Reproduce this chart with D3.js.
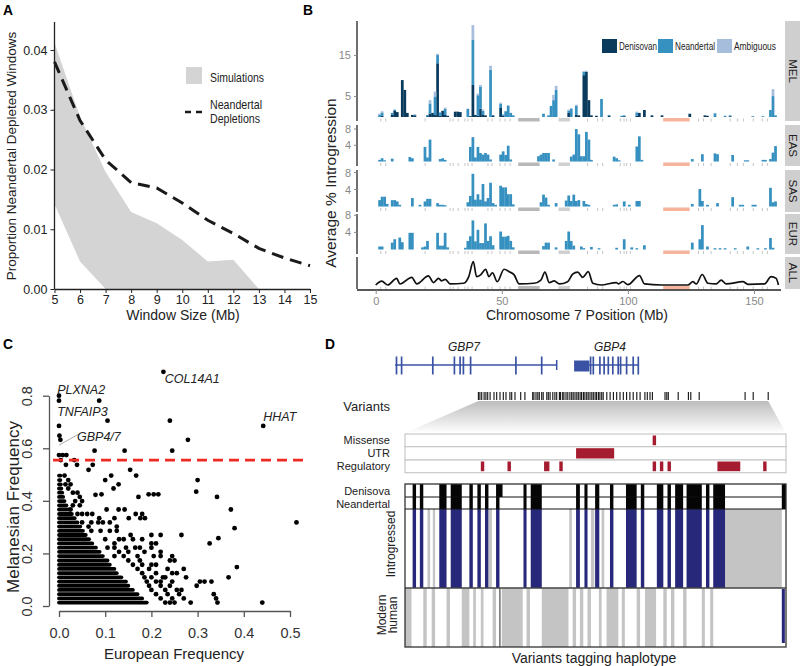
<!DOCTYPE html>
<html>
<head>
<meta charset="utf-8">
<script src="https://d3js.org/d3.v7.min.js"></script>
<style>
body { margin: 0; background: #fff; }
svg { font-family: "Liberation Sans", Arial, sans-serif; }
</style>
</head>
<body>
<div id="fig"></div>
<script>
// ---------------- panel A data ----------------
var windowSizes = [5, 6, 7, 8, 9, 10, 11, 12, 13, 14, 15];
var depletions = [0.038, 0.0282, 0.0216, 0.0178, 0.0169, 0.0144, 0.0115, 0.0093, 0.0068, 0.0052, 0.0039];
var simSizes = [5, 6, 7, 8, 9, 10, 11, 12, 13];
var simHigh = [0.0412, 0.0288, 0.0196, 0.0129, 0.011, 0.0082, 0.0046, 0.0049, 0];
var simLow = [0.0142, 0.0046, 0, 0, 0, 0, 0, 0, 0];
var propTicks = [0, 0.01, 0.02, 0.03, 0.04];

// ---------------- panel B data ----------------
var popNames = ["MEL", "EAS", "SAS", "EUR", "ALL"];
var chrTicks = [0, 50, 100, 150];
var ancestry = ["Denisovan", "Neandertal", "Ambiguous"];
// [Mb, denisovan, neandertal, ambiguous]
var melBins = [[1,0,0.6,0.2],[2,0.3,0.8,0.3],[6,0.5,0.5,0],[7,1.5,0.3,0],[8,1.2,0,0],[10,9,0,0],[11,6.6,0,0],[12,1,0,0],
  [14,0.5,0,0],[15,0.4,0.2,0],[20,0.2,0.3,0],[21,0.8,2.5,0.8],[22,1,0,0],[23,0.5,4.5,1.2],[24,13.1,2,0.3],[25,0.3,0.8,0],
  [26,1.5,0,0],[27,0.5,1.5,0.3],[28,0.3,0,0],[31,1.3,0,0],[32,1.3,0,0],[33,1.2,0,0],[36,0,2,0],[37,0.2,0,0],
  [38,7.8,11,3.6],[39,0.5,0,0],[40,0.3,5,0.4],[41,2,5.4,0.4],[42,0.5,1,0.3],[43,0.4,0,0],[45,0,11.5,1],[46,0.4,0,0],
  [49,2.2,1,0.3],[50,0.3,0.3,0],[51,0,1.4,0],[52,0,2.7,0.2],[53,0,1,0],[54,0,0.4,0],[66,0,0.8,0],[68,0,0.4,0],
  [69,0,2.7,0],[70,0,4.1,1.3],[71,0,6.6,1],[76,1,0.5,0.3],[77,0,2,0.2],[79,0.5,2.2,0.3],[80,0.4,0,0],[82,10.2,0.8,0.2],
  [83,11,0,0.3],[84,4.1,0,0],[85,0.4,0,0],[87,0.3,0,0],[89,0,4.4,0],[92,0.3,0.2,0],[97,0,0.3,0],[98,0.2,0.2,0],
  [103,0.3,0.8,0.2],[104,1,0,0],[106,1.7,0,0],[109,0.4,0,0],[113,0.4,0,0],[124,0.8,0,0],[130,0.4,0,0],[131,0.3,0,0],
  [134,0,0.9,0.1],[138,0,0.3,0],[140,0.2,0.2,0],[149,0,0.2,0],[153,0,0.2,0],[156,0,1.7,0],[157,0,5.1,1.7],[158,0,0.4,0]];
// [Mb, neandertal]
var easBins = [[1,0.4],[2,0.8],[3,0.3],[6,0.7],[13,1.1],[14,0.8],[19,3.6],[20,1],[21,5.4],[25,0.6],[26,0.8],[27,0.4],
  [37,3.6],[38,6],[39,1],[40,3.6],[41,2.1],[42,1.7],[43,2.1],[44,1.7],[45,0.5],[49,1.7],[50,2.5],[51,1.6],[52,3.9],
  [53,0.5],[64,1.3],[65,1.7],[66,2.1],[67,2.1],[68,2.1],[70,0.5],[77,1.2],[78,1.7],[79,8],[80,6.7],[81,1.3],[82,1.3],
  [83,7.3],[84,5.4],[85,0.4],[94,1.2],[95,0.8],[96,0.3],[103,3.7],[104,6.2],[105,0.4],[125,0.6],[129,1.8],[134,2],
  [135,1.8],[141,1.6],[146,0.3],[147,0.3],[153,0.4],[154,0.4],[156,0.6],[157,2.2],[158,3.8]];
var sasBins = [[1,1.5],[2,2.3],[3,2.3],[4,0.6],[6,1.5],[7,1.5],[8,1.2],[9,0.4],[14,2],[17,0.4],[19,1.2],[20,1.8],[21,1.8],
  [24,0.8],[25,0.4],[26,0.4],[27,0.3],[36,1],[37,2.5],[38,7.7],[39,1.6],[40,2.9],[41,1.6],[42,5.3],[43,1.2],[44,2],
  [45,5.6],[46,0.8],[47,0.4],[49,4.9],[50,4.5],[51,4.5],[52,2.9],[53,2.9],[54,0.5],[65,1],[66,2.8],[67,2.1],[68,0.4],
  [71,0.8],[75,1.4],[76,2.6],[77,1.3],[78,2.8],[79,1.3],[80,1.5],[82,1.3],[83,0.6],[84,0.4],[94,0.4],[95,0.5],[98,1.2],
  [100,0.4],[103,1.3],[104,1.3],[125,0.6],[128,4.1],[129,1.3],[131,0.4],[135,0.8],[141,2.2],[144,0.4],[145,0.4],
  [149,0.4],[150,0.4],[156,4.4],[157,1],[158,1.2]];
var eurBins = [[1,0.7],[2,0.7],[6,1.6],[7,2.4],[9,2.8],[10,1.7],[13,3.9],[14,3.9],[18,0.5],[19,0.7],[20,2],[24,3.9],
  [25,0.9],[26,0.9],[27,3.9],[28,0.5],[35,0.4],[36,2],[37,3.1],[38,6.8],[39,1.9],[40,4.6],[41,1.5],[42,1.5],[43,6.1],
  [44,2],[45,3.1],[46,1],[49,4.2],[50,3],[51,3],[52,3.2],[53,2],[54,0.5],[66,0.8],[67,1.6],[68,1.6],[71,0.5],[75,2],
  [76,4.2],[77,2],[78,0.9],[81,0.7],[82,0.3],[85,0.6],[88,0.3],[95,0.4],[98,2.4],[101,0.5],[103,0.3],[106,1],
  [125,1.6],[128,2.4],[129,5.7],[131,0.7],[134,0.3],[136,0.3],[138,0.3],[142,0.3],[147,0.7],[151,0.3],[154,0.3],
  [156,2.7],[157,0.4]];
// [Mb, average introgression, all populations]
var allCurve = [[0,0],[2.4,1.1],[4.8,0],[8.3,1.9],[9.6,0.3],[14.3,2.2],[16.3,0.3],[20.9,2.6],[22.9,0.7],[24.9,1.9],
  [26.2,1.2],[27.6,1.6],[29.6,0.3],[34.9,0.5],[36.9,2.4],[38.7,6.7],[40,2.4],[41.6,2.9],[43.6,4.5],[44.9,2.4],
  [46.3,3.5],[48.2,0.95],[50.9,4.5],[52.9,3.8],[54.9,2.9],[56.9,0.3],[62.8,0.5],[65.5,1.4],[67.1,3.7],[68.8,0.7],
  [70.8,1.2],[72.8,0.3],[76.1,0.95],[78.1,3.1],[80.1,3.7],[82.1,2.2],[84.3,3.8],[86.1,0.5],[89.4,0],[95.4,0.7],
  [96.3,0.3],[98,1],[100,0.1],[104.6,2.7],[106.6,0.3],[113.2,0],[123.8,0],[125.8,0.95],[127.1,0.3],[129.5,3],
  [131.7,0.5],[135,0.3],[137,1.4],[139,0.3],[145.6,0.95],[147.6,0.2],[154.2,0.3],[156.8,2.4],[158.8,1.9],[159.7,0]];
var rugPos = [2, 4, 19.6, 29.5, 30.7, 32.7, 35.4, 36.6, 38.2, 44.5, 46.1, 49.3, 51.3, 53.3, 84, 88, 90, 97, 98.5,
  99.5, 101, 128, 130, 133, 140.6, 143.4, 145.8, 149.7, 153.3, 155.3];
var gapRegions = [[56.5, 65], [72.5, 77]];
var centromere = [114, 124.5];

// ---------------- panel C data ----------------
var eurTicks = [0, 0.1, 0.2, 0.3, 0.4, 0.5];
var melTicks = [0, 0.2, 0.4, 0.6, 0.8];
var cutoff = 0.555;
// [melanesian frequency, european frequency reached by the packed run of SNPs]
var denseRows = [[0.013,0.19],[0.029,0.18],[0.045,0.17],[0.061,0.16],[0.077,0.15],[0.093,0.145],[0.109,0.135],
  [0.125,0.125],[0.141,0.12],[0.157,0.11],[0.173,0.105],[0.19,0.095],[0.206,0.088],[0.222,0.08],[0.238,0.072],
  [0.254,0.065],[0.27,0.058],[0.286,0.052],[0.302,0.046],[0.318,0.04],[0.334,0.034],[0.35,0.028],[0.367,0.022],
  [0.383,0.016],[0.399,0.012],[0.415,0.009],[0.431,0.007],[0.447,0.005],[0.463,0.004],[0.479,0.003],[0.496,0.003]];
// [european, melanesian]
var snpPoints = [[0.226,0.891],[0,0.8],[0,0.781],[0.087,0.781],[0.105,0.705],[0.24,0.705],[0,0.685],[0.442,0.685],
  [0.001,0.648],[0.003,0.632],[0.279,0.632],[0.077,0.591],[0.142,0.591],[0.245,0.591],[0,0.574],[0.008,0.574],
  [0.016,0.574],[0.004,0.555],[0.033,0.555],[0.015,0.537],[0.039,0.537],[0.073,0.537],[0.064,0.518],[0.154,0.518],
  [0.167,0.496],[0.113,0.496],[0.1,0.479],[0.3,0.479],[0.129,0.463],[0.118,0.447],[0.092,0.425],[0.079,0.423],
  [0.172,0.415],[0.194,0.425],[0.205,0.425],[0.215,0.425],[0.297,0.435],[0.342,0.415],
  [0.012,0.496],[0.02,0.479],[0.014,0.463],[0.025,0.463],[0.02,0.447],[0.03,0.431],[0.04,0.431],[0.045,0.415],
  [0.035,0.399],[0.05,0.399],[0.03,0.383],[0.045,0.383],[0.025,0.367],[0.04,0.35],[0.05,0.35],
  [0.103,0.367],[0.129,0.367],[0.142,0.367],[0.372,0.367],[0.061,0.35],[0.072,0.35],[0.166,0.35],[0.18,0.35],
  [0.087,0.334],[0.12,0.334],[0.151,0.334],[0.176,0.334],[0.186,0.334],[0.05,0.318],[0.07,0.318],[0.085,0.318],
  [0.095,0.318],[0.11,0.318],[0.514,0.318],[0.064,0.302],[0.125,0.302],[0.38,0.296],[0.07,0.286],[0.09,0.286],
  [0.11,0.286],[0.125,0.286],[0.155,0.27],[0.2,0.27],[0.22,0.27],[0.265,0.27],[0.1,0.254],[0.13,0.254],[0.14,0.254],
  [0.16,0.254],[0.18,0.254],[0.345,0.258],[0.12,0.238],[0.2,0.238],[0.21,0.238],[0.326,0.238],[0.105,0.222],
  [0.12,0.222],[0.145,0.222],[0.165,0.222],[0.175,0.222],[0.2,0.222],[0.13,0.206],[0.15,0.206],[0.185,0.206],
  [0.22,0.206],[0.12,0.19],[0.14,0.19],[0.17,0.19],[0.205,0.19],[0.22,0.19],[0.245,0.19],[0.15,0.173],[0.175,0.173],
  [0.24,0.173],[0.25,0.173],[0.16,0.157],[0.18,0.157],[0.2,0.157],[0.21,0.157],[0.17,0.141],[0.195,0.141],
  [0.235,0.141],[0.27,0.141],[0.385,0.148],[0.18,0.125],[0.21,0.125],[0.245,0.125],[0.255,0.125],[0.185,0.109],
  [0.2,0.109],[0.225,0.109],[0.23,0.109],[0.275,0.109],[0.367,0.109],[0.19,0.093],[0.21,0.093],[0.22,0.093],
  [0.245,0.093],[0.305,0.093],[0.315,0.093],[0.33,0.093],[0.195,0.077],[0.22,0.077],[0.24,0.077],[0.298,0.077],
  [0.2,0.061],[0.23,0.061],[0.255,0.061],[0.265,0.061],[0.21,0.045],[0.235,0.045],[0.26,0.045],[0.335,0.045],
  [0.22,0.029],[0.245,0.029],[0.27,0.029],[0.34,0.029],[0.23,0.013],[0.24,0.013],[0.25,0.013],[0.285,0.013],
  [0.343,0.013],[0.44,0.013]];
// [gene, european, melanesian] where the label text starts
var geneLabels = [["COL14A1",0.229,0.848],["PLXNA2",-0.004,0.806],["TNFAIP3",-0.004,0.723],["GBP4/7",0.039,0.628],["HHAT",0.442,0.704]];
var gbpLeader = [[0.0, 0.612], [0.045, 0.656]];

// ---------------- panel D data ----------------
// gene model, kb from the left end of GBP7
var gbp7Span = [0, 53.9];
var gbp7Exons = [0.5, 2.2, 12.6, 19.8, 21.7, 22.8, 25.2, 40.3, 48.9];
var gbp4Span = [59.7, 81.1];
var gbp4Utr = [59.7, 64.8];
var gbp4Exons = [65.2, 66.1, 68.3, 69.7, 71.1, 72.6, 74.4, 75.2, 77.2, 79.4, 81.1];
var variantKb = [27.8,28.3,28.9,29.7,30.3,30.9,31.7,33,33.9,35,36.1,37,38.3,38.9,40,41.9,43.3,45.9,46.3,47,47.6,48.1,
  48.9,49.4,50.6,51.1,51.7,52.6,53.3,53.9,54.8,55.2,55.9,56.3,57,57.6,58.3,58.9,59.4,60,60.6,61.1,61.7,62.2,62.8,63.3,
  63.9,64.4,65,65.6,66.1,66.7,67.2,67.8,68.3,68.9,69.4,70.6,71.7,72.8,73.9,75,76.1,77.2,78.3,79.4,80.6,81.7,83.3,84.1,
  85,85.8,90,90.6,91.1,94.4,97.8,98.6,101.4,116.7,119.4,124.4];
// annotation tracks and haplotype columns, % of the zoomed variant window
var annoTracks = ["Missense", "UTR", "Regulatory"];
var missense = [[65.0, 65.9]];
var utr = [[44.9, 54.9]];
var regulatory = [[19.9,20.8],[26.9,27.8],[36.5,37.9],[40.5,41.4],[65.0,65.9],[66.9,67.8],[68.9,69.8],[82.0,88.0],[94.0,94.9]];
var introBlue = [[2.0,2.9],[3.9,4.8],[9.0,10.9],[12.0,14.9],[16.9,17.8],[19.0,19.9],[21.0,21.9],[23.9,24.8],[31.1,31.9],
  [33.0,35.9],[44.9,45.9],[47.1,47.9],[49.9,51.0],[53.8,54.7],[58.0,60.8],[61.9,62.8],[66.1,67.8],[68.9,69.8],
  [70.9,73.0],[73.9,77.9],[79.0,79.9],[80.9,84.0]];
var introGrey = [[5.9,6.6],[7.3,7.9],[22.0,22.8],[43.1,43.8],[48.8,49.7],[51.6,52.3],[84.0,98.9]];
var denCols = introBlue.filter(function(c){ return c[0] != 23.9; }).concat([[23.9,25.6],[98.9,100]]);
var neaCols = introBlue.concat([[98.9,100]]);
var modernGrey = [[0,1.7],[4.8,5.7],[7.0,7.9],[10.9,11.8],[14.9,16.9],[17.9,18.6],[19.9,20.6],[23.0,23.9],[25.4,30.9],
  [31.9,32.8],[35.9,42.9],[44.0,44.9],[45.9,46.8],[47.9,48.8],[50.9,51.6],[52.9,56.0],[56.9,57.7],[60.8,61.7],
  [63.0,65.9],[67.8,68.7],[69.8,70.7],[73.0,73.9],[77.9,78.7],[80.1,80.9]];
var modernBlue = [[98.9, 99.7]];
var modernDark = [24.9];

// ---------------- svg ----------------
var svg = d3.select("#fig").append("svg")
    .attr("width", 800)
    .attr("height", 666)
    .style("background", "#fff");

function panelLetter(t, x, y) {
    svg.append("text")
        .attr("x", x).attr("y", y)
        .attr("font-weight", "bold")
        .attr("font-size", 15.5)
        .attr("textLength", 10).attr("lengthAdjust", "spacingAndGlyphs")
        .text(t);
}
// the original legends use a condensed face, squeeze the glyphs to its width
function narrowText(g, x, y, size, width, t) {
    return g.append("text").attr("x", x).attr("y", y)
        .attr("font-size", size).attr("fill", "#222")
        .attr("textLength", width).attr("lengthAdjust", "spacingAndGlyphs")
        .text(t);
}

// ================= A =================
var gA = svg.append("g");
var xA = d3.scaleLinear().domain([5, 15]).range([54.5, 310]);
var yA = d3.scaleLinear().domain([0, 0.04]).range([289, 50]);

var band = d3.area()
    .x(function(d, i){ return xA(simSizes[i]); })
    .y0(function(d, i){ return yA(simLow[i]); })
    .y1(function(d, i){ return yA(simHigh[i]); });
gA.append("path").attr("d", band(simSizes)).attr("fill", "#d4d4d4");

var deplLine = d3.line()
    .x(function(d, i){ return xA(windowSizes[i]); })
    .y(function(d){ return yA(d); });
gA.append("path").attr("d", deplLine(depletions))
    .attr("fill", "none").attr("stroke", "#1a1a1a")
    .attr("stroke-width", 3).attr("stroke-dasharray", "12,7");

var axA = gA.append("g").attr("transform", "translate(0," + yA(0) + ")")
    .call(d3.axisBottom(xA).tickValues(windowSizes).tickSize(4).tickSizeOuter(0).tickPadding(2));
var ayA = gA.append("g").attr("transform", "translate(" + xA(5) + ",0)")
    .call(d3.axisLeft(yA).tickValues(propTicks).tickFormat(d3.format(".2f")).tickSize(4).tickSizeOuter(0).tickPadding(3));
ayA.select(".domain").remove();
gA.append("line").attr("x1", xA(5)).attr("x2", xA(5)).attr("y1", yA(0)).attr("y2", yA(0.0447))
    .attr("stroke", "#222").attr("stroke-width", 1.3);
[axA, ayA].forEach(function(a){
    a.selectAll("text").attr("font-size", 12.5).attr("fill", "#222").attr("font-family", "Liberation Sans");
    a.selectAll("line").attr("stroke", "#222");
    a.select(".domain").attr("stroke", "#222").attr("stroke-width", 1.3);
});
gA.append("text").attr("x", 183).attr("y", 320).attr("text-anchor", "middle")
    .attr("font-size", 14).attr("fill", "#222").text("Window Size (Mb)");
gA.append("text").attr("transform", "translate(16,156) rotate(-90)").attr("text-anchor", "middle")
    .attr("font-size", 13.5).attr("fill", "#222").text("Proportion Neandertal Depleted Windows");

// legend A
gA.append("rect").attr("x", 186).attr("y", 67).attr("width", 16).attr("height", 17).attr("fill", "#d4d4d4");
narrowText(gA, 210, 82, 13, 54, "Simulations");
gA.append("line").attr("x1", 185).attr("x2", 203).attr("y1", 112).attr("y2", 112)
    .attr("stroke", "#1a1a1a").attr("stroke-width", 2.5).attr("stroke-dasharray", "6,5");
narrowText(gA, 210, 109, 13, 52, "Neandertal");
narrowText(gA, 210, 122.5, 13, 50, "Depletions");
panelLetter("A", 3, 15);

// ================= B =================
var gB = svg.append("g");
var xB = d3.scaleLinear().domain([0, 160]).range([375.7, 779.2]);
var ancColor = d3.scaleOrdinal().domain(ancestry).range(["#0a3a5c", "#3690c0", "#a6bddb"]);
var facetLayout = [
    {top: 21, bottom: 121, base: 117, max: 23.4, ticks: [5, 15]},
    {top: 125, bottom: 166, base: 161.5, max: 9, ticks: [4, 8]},
    {top: 170, bottom: 212, base: 206.5, max: 8.6, ticks: [4, 8]},
    {top: 214, bottom: 254, base: 249.5, max: 8.3, ticks: [4, 8]},
    {top: 257, bottom: 289, base: 285, max: 8, ticks: []}
];
var facetData = [null, easBins, sasBins, eurBins, null];
var binW = xB(1) - xB(0);

facetLayout.forEach(function(f, i){
    var yF = d3.scaleLinear().domain([0, f.max]).range([f.base, f.top]);
    var g = gB.append("g");

    // rug and masked regions under the baseline
    g.selectAll("line.rug").data(rugPos).enter().append("line")
        .attr("x1", function(d){ return xB(d); }).attr("x2", function(d){ return xB(d); })
        .attr("y1", f.base + 1.5).attr("y2", f.base + 4.5)
        .attr("stroke", "#c4c4c4").attr("stroke-width", 1);
    g.selectAll("rect.gap").data(gapRegions).enter().append("rect")
        .attr("x", function(d){ return xB(d[0]); })
        .attr("width", function(d){ return xB(d[1]) - xB(d[0]); })
        .attr("y", f.base + 1).attr("height", 3.5)
        .attr("fill", function(d, j){ return j == 0 ? "#b8b8b8" : "#d0d0d0"; });
    g.append("rect").attr("x", xB(centromere[0])).attr("width", xB(centromere[1]) - xB(centromere[0]))
        .attr("y", f.base + 1).attr("height", 3.5).attr("fill", "#f6b49c");

    if (i == 0) {
        var rows = melBins.map(function(d){ return {mb: d[0], Denisovan: d[1], Neandertal: d[2], Ambiguous: d[3]}; });
        var stack = d3.stack().keys(ancestry)(rows);
        g.selectAll("g.layer").data(stack).enter().append("g")
            .attr("fill", function(s){ return ancColor(s.key); })
            .selectAll("rect").data(function(s){ return s; }).enter().append("rect")
            .attr("x", function(d){ return xB(d.data.mb); })
            .attr("width", binW + 0.2)
            .attr("y", function(d){ return yF(d[1]); })
            .attr("height", function(d){ return Math.max(0, yF(d[0]) - yF(d[1])); });
    } else if (i < 4) {
        g.selectAll("rect.bar").data(facetData[i]).enter().append("rect")
            .attr("x", function(d){ return xB(d[0]); })
            .attr("width", binW + 0.2)
            .attr("y", function(d){ return yF(d[1]); })
            .attr("height", function(d){ return f.base - yF(d[1]); })
            .attr("fill", ancColor("Neandertal"));
    } else {
        var line = d3.line().curve(d3.curveMonotoneX)
            .x(function(d){ return xB(d[0]); })
            .y(function(d){ return yF(d[1]); });
        g.append("path").attr("d", line(allCurve))
            .attr("fill", "none").attr("stroke", "#111").attr("stroke-width", 1.7);
    }

    // y axis segment for this facet
    g.append("line").attr("x1", 357).attr("x2", 357).attr("y1", f.top).attr("y2", f.bottom)
        .attr("stroke", "#222").attr("stroke-width", 1.3);
    g.selectAll("line.tk").data(f.ticks).enter().append("line")
        .attr("x1", 354).attr("x2", 357)
        .attr("y1", function(d){ return yF(d); }).attr("y2", function(d){ return yF(d); })
        .attr("stroke", "#888");
    g.selectAll("text.tk").data(f.ticks).enter().append("text")
        .attr("x", 351).attr("y", function(d){ return yF(d) + 4; })
        .attr("text-anchor", "end").attr("font-size", 11).attr("fill", "#888")
        .text(function(d){ return d; });

    // strip
    g.append("rect").attr("x", 785).attr("y", f.top).attr("width", 16).attr("height", f.bottom - f.top)
        .attr("fill", "#cfcfcf");
    g.append("text")
        .attr("transform", "translate(789," + ((f.top + f.bottom) / 2) + ") rotate(90)")
        .attr("text-anchor", "middle").attr("font-size", 11.5).attr("fill", "#222")
        .text(popNames[i]);
});

var axB = gB.append("g").attr("transform", "translate(0,290)")
    .call(d3.axisBottom(xB).tickValues(chrTicks).tickSize(4).tickSizeOuter(0).tickPadding(3));
axB.select(".domain").attr("d", "M357,0H781").attr("stroke", "#222").attr("stroke-width", 1.3);
axB.selectAll("line").attr("stroke", "#888");
axB.selectAll("text").attr("font-size", 11).attr("fill", "#888").attr("font-family", "Liberation Sans");
gB.append("text").attr("x", 577).attr("y", 320).attr("text-anchor", "middle")
    .attr("font-size", 14).attr("fill", "#222").text("Chromosome 7 Position (Mb)");
gB.append("text").attr("transform", "translate(336,183) rotate(-90)").attr("text-anchor", "middle")
    .attr("font-size", 15.5).attr("fill", "#222").text("Average % Introgression");

// legend B
var legX = [602, 658, 717];
var legW = [38, 40, 42];
ancestry.forEach(function(a, i){
    gB.append("rect").attr("x", legX[i]).attr("y", 39).attr("width", 15).attr("height", 14).attr("fill", ancColor(a));
    narrowText(gB, legX[i] + 17, 50, 11, legW[i], a);
});
panelLetter("B", 303, 15);

// ================= C =================
var gC = svg.append("g");
var xC = d3.scaleLinear().domain([0, 0.5]).range([59, 290]);
var yC = d3.scaleLinear().domain([0, 0.8]).range([606, 395.7]);

gC.selectAll("line.run").data(denseRows).enter().append("line")
    .attr("x1", xC(0)).attr("x2", function(d){ return xC(d[1]); })
    .attr("y1", function(d){ return yC(d[0]); }).attr("y2", function(d){ return yC(d[0]); })
    .attr("stroke", "#000").attr("stroke-width", 3.8).attr("stroke-linecap", "round");
gC.selectAll("circle").data(snpPoints).enter().append("circle")
    .attr("cx", function(d){ return xC(d[0]); })
    .attr("cy", function(d){ return yC(d[1]); })
    .attr("r", 2.4).attr("fill", "#000");
gC.append("line").attr("x1", xC(-0.013)).attr("x2", xC(0.537))
    .attr("y1", yC(cutoff)).attr("y2", yC(cutoff))
    .attr("stroke", "#ee2a24").attr("stroke-width", 2.6).attr("stroke-dasharray", "10,6");
gC.append("line").attr("x1", xC(gbpLeader[0][0])).attr("y1", yC(gbpLeader[0][1]))
    .attr("x2", xC(gbpLeader[1][0])).attr("y2", yC(gbpLeader[1][1]))
    .attr("stroke", "#aaa").attr("stroke-width", 1);
gC.selectAll("text.gene").data(geneLabels).enter().append("text")
    .attr("x", function(d){ return xC(d[1]); }).attr("y", function(d){ return yC(d[2]); })
    .attr("font-style", "italic").attr("font-size", 12.5).attr("fill", "#222")
    .text(function(d){ return d[0]; });

var axC = gC.append("g").attr("transform", "translate(0,611)")
    .call(d3.axisBottom(xC).tickValues(eurTicks).tickFormat(d3.format(".1f")).tickSize(6).tickSizeOuter(0).tickPadding(11));
var ayC = gC.append("g").attr("transform", "translate(49,0)")
    .call(d3.axisLeft(yC).tickValues(melTicks).tickFormat(d3.format(".1f")).tickSize(6).tickSizeOuter(0));
[axC, ayC].forEach(function(a){
    a.select(".domain").attr("stroke", "#555").attr("stroke-width", 1.3);
    a.selectAll("line").attr("stroke", "#555").attr("stroke-width", 1.3);
    a.selectAll("text").attr("font-size", 14.5).attr("fill", "#333").attr("font-family", "Liberation Sans");
});
ayC.selectAll(".tick text")
    .attr("x", null).attr("dy", null).attr("text-anchor", "middle")
    .attr("transform", "translate(-17,0) rotate(-90)");
gC.append("text").attr("x", 174).attr("y", 659).attr("text-anchor", "middle")
    .attr("font-size", 15).attr("fill", "#222").text("European Frequency");
gC.append("text").attr("transform", "translate(19,507) rotate(-90)").attr("text-anchor", "middle")
    .attr("font-size", 17).attr("fill", "#222").text("Melanesian Frequency");
panelLetter("C", 3, 349);

// ================= D =================
var gD = svg.append("g");
var kb = d3.scaleLinear().domain([0, 130]).range([395, 785]);
var col = d3.scaleLinear().domain([0, 100]).range([405, 786]);
var geneBlue = "#3a52a3";

// gene models
[gbp7Span, gbp4Span].forEach(function(s){
    gD.append("line").attr("x1", kb(s[0])).attr("x2", kb(s[1])).attr("y1", 365).attr("y2", 365)
        .attr("stroke", geneBlue).attr("stroke-width", 1.6);
});
gD.selectAll("line.ex7").data(gbp7Exons.concat(gbp4Exons)).enter().append("line")
    .attr("x1", function(d){ return kb(d); }).attr("x2", function(d){ return kb(d); })
    .attr("y1", 356.5).attr("y2", 374.5).attr("stroke", geneBlue).attr("stroke-width", 1.7);
gD.append("line").attr("x1", kb(gbp7Span[1])).attr("x2", kb(gbp7Span[1])).attr("y1", 360).attr("y2", 370)
    .attr("stroke", geneBlue).attr("stroke-width", 1.5);
gD.append("rect").attr("x", kb(gbp4Utr[0])).attr("width", kb(gbp4Utr[1]) - kb(gbp4Utr[0]))
    .attr("y", 360.5).attr("height", 11).attr("fill", geneBlue);
gD.append("text").attr("x", 464).attr("y", 351).attr("text-anchor", "middle")
    .attr("font-style", "italic").attr("font-size", 12).attr("fill", "#222").text("GBP7");
gD.append("text").attr("x", 610).attr("y", 351).attr("text-anchor", "middle")
    .attr("font-style", "italic").attr("font-size", 12).attr("fill", "#222").text("GBP4");

// variants
gD.append("text").attr("x", 390).attr("y", 411).attr("text-anchor", "end")
    .attr("font-size", 13).attr("fill", "#222").text("Variants");
gD.selectAll("line.var").data(variantKb).enter().append("line")
    .attr("x1", function(d){ return kb(d); }).attr("x2", function(d){ return kb(d); })
    .attr("y1", 392).attr("y2", 400).attr("stroke", "#111").attr("stroke-width", 1.1);

// zoom funnel
var defs = svg.append("defs");
var grad = defs.append("linearGradient").attr("id", "funnel").attr("x1", 0).attr("x2", 0).attr("y1", 0).attr("y2", 1);
grad.append("stop").attr("offset", "0%").attr("stop-color", "#bdbdbd");
grad.append("stop").attr("offset", "100%").attr("stop-color", "#ffffff");
var vMin = d3.min(variantKb), vMax = d3.max(variantKb);
gD.append("path")
    .attr("d", "M" + kb(vMin) + ",401 L" + kb(vMax) + ",401 L" + col(100) + ",433 L" + col(0) + ",433 Z")
    .attr("fill", "url(#funnel)");

// annotation tracks
var trackY = [434, 446.7, 460, 472.7];
var annoSets = [missense, utr, regulatory];
annoTracks.forEach(function(t, i){
    gD.append("rect").attr("x", col(0)).attr("width", col(100) - col(0))
        .attr("y", trackY[i]).attr("height", trackY[i + 1] - trackY[i])
        .attr("fill", "#fff").attr("stroke", "#c8c8c8").attr("stroke-width", 1.2);
    gD.selectAll("rect.a" + i).data(annoSets[i]).enter().append("rect")
        .attr("x", function(d){ return col(d[0]); })
        .attr("width", function(d){ return col(d[1]) - col(d[0]); })
        .attr("y", trackY[i] + 1.5).attr("height", trackY[i + 1] - trackY[i] - 3)
        .attr("fill", "#a51c30");
    gD.append("text").attr("x", 390).attr("y", (trackY[i] + trackY[i + 1]) / 2 + 4)
        .attr("text-anchor", "end").attr("font-size", 11).attr("fill", "#222").text(t);
});

// haplotype matrix
var rowY = {den: [484, 497], nea: [497, 509], intro: [509, 588], modern: [588, 647]};
function colRects(data, r, color, cls) {
    gD.selectAll("rect." + cls).data(data).enter().append("rect")
        .attr("x", function(d){ return col(d[0]); })
        .attr("width", function(d){ return col(d[1]) - col(d[0]); })
        .attr("y", r[0]).attr("height", r[1] - r[0])
        .attr("fill", color);
}
colRects(modernGrey, rowY.modern, "#c4c4c4", "mg");
colRects(modernBlue, [rowY.modern[0] + 1, rowY.modern[1] - 4], "#27287a", "mb");
colRects(introGrey, rowY.intro, "#c4c4c4", "ig");
colRects(introBlue, rowY.intro, "#27287a", "ib");
colRects(denCols, rowY.den, "#050505", "dc");
colRects(neaCols, rowY.nea, "#050505", "nc");
gD.selectAll("line.md").data(modernDark).enter().append("line")
    .attr("x1", function(d){ return col(d); }).attr("x2", function(d){ return col(d); })
    .attr("y1", rowY.modern[0]).attr("y2", rowY.modern[1])
    .attr("stroke", "#777").attr("stroke-width", 1.6);
[497, 509].forEach(function(y){
    gD.append("line").attr("x1", col(0)).attr("x2", col(100)).attr("y1", y).attr("y2", y)
        .attr("stroke", "#111").attr("stroke-width", 1.2);
});
gD.append("line").attr("x1", col(0)).attr("x2", col(100)).attr("y1", 588).attr("y2", 588)
    .attr("stroke", "#444").attr("stroke-width", 1.5);
gD.append("rect").attr("x", col(0)).attr("y", 484).attr("width", col(100) - col(0)).attr("height", 163)
    .attr("fill", "none").attr("stroke", "#333").attr("stroke-width", 1.3);

gD.append("text").attr("x", 390).attr("y", 495).attr("text-anchor", "end")
    .attr("font-size", 11).attr("fill", "#222").text("Denisova");
gD.append("text").attr("x", 390).attr("y", 508).attr("text-anchor", "end")
    .attr("font-size", 11).attr("fill", "#222").text("Neandertal");
gD.append("text").attr("transform", "translate(395,544) rotate(-90)").attr("text-anchor", "middle")
    .attr("font-size", 12).attr("fill", "#222").text("Introgressed");
gD.append("text").attr("transform", "translate(386,615) rotate(-90)").attr("text-anchor", "middle")
    .attr("font-size", 12).attr("fill", "#222").text("Modern");
gD.append("text").attr("transform", "translate(397,615) rotate(-90)").attr("text-anchor", "middle")
    .attr("font-size", 12).attr("fill", "#222").text("human");
gD.append("text").attr("x", 594).attr("y", 663).attr("text-anchor", "middle")
    .attr("font-size", 14).attr("fill", "#222").text("Variants tagging haplotype");
panelLetter("D", 325, 349);
</script>
</body>
</html>
